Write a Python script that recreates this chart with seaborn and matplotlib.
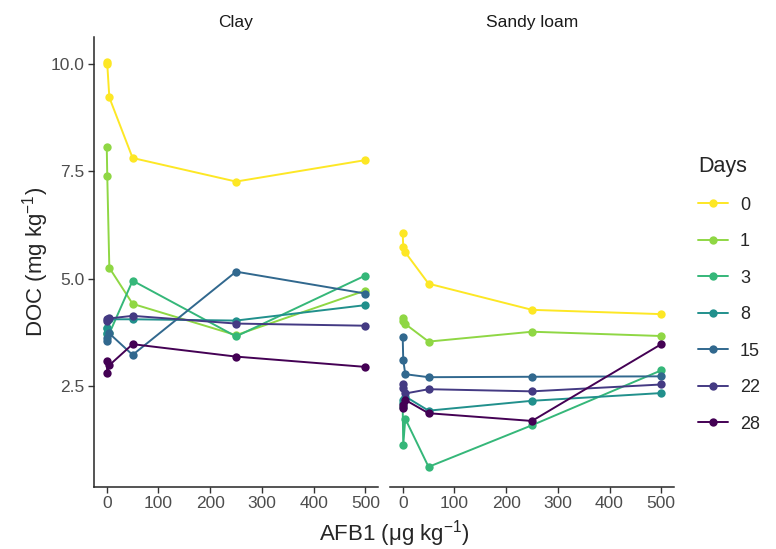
import numpy as np
import pandas as pd
import matplotlib
matplotlib.use("Agg")
import matplotlib.pyplot as plt
import seaborn as sns

# AFB1 spiking levels (µg kg-1)
afb1 = [0, 1, 5, 50, 250, 500]
days = ["0", "1", "3", "8", "15", "22", "28"]

# Dissolved organic carbon (mg kg-1) per sampling day, one value per AFB1 level
clay = {
    "0":  [10.05, 10.00, 9.22, 7.81, 7.26, 7.76],
    "1":  [8.07, 7.39, 5.25, 4.41, 3.68, 4.72],
    "3":  [3.85, 3.70, 3.72, 4.95, 3.65, 5.07],
    "8":  [3.85, 3.72, 4.05, 4.05, 4.02, 4.38],
    "15": [3.55, 3.62, 3.72, 3.22, 5.16, 4.65],
    "22": [4.00, 4.05, 4.07, 4.13, 3.95, 3.90],
    "28": [3.08, 2.79, 2.98, 3.47, 3.18, 2.94],
}
sandy_loam = {
    "0":  [6.05, 5.74, 5.61, 4.88, 4.27, 4.17],
    "1":  [4.07, 4.01, 3.94, 3.53, 3.76, 3.66],
    "3":  [2.00, 1.12, 1.73, 0.61, 1.58, 2.86],
    "8":  [2.18, 2.10, 2.25, 1.92, 2.15, 2.33],
    "15": [3.64, 3.10, 2.77, 2.70, 2.71, 2.72],
    "22": [2.53, 2.44, 2.32, 2.42, 2.37, 2.53],
    "28": [2.05, 1.98, 2.17, 1.86, 1.68, 3.47],
}
soils = {"Clay": clay, "Sandy loam": sandy_loam}

rows = []
for soil, table in soils.items():
    for d in days:
        for x, y in zip(afb1, table[d]):
            rows.append({"Soil": soil, "Days": d, "AFB1": x, "DOC": y})
df = pd.DataFrame(rows)

palette = dict(zip(days, ["#FDE725", "#8FD744", "#35B779", "#21908C",
                          "#31688E", "#443A83", "#440154"]))

sns.set_theme(style="ticks")
plt.rcParams["font.family"] = ["Liberation Sans", "DejaVu Sans"]
plt.rcParams["mathtext.fontset"] = "custom"
plt.rcParams["mathtext.rm"] = "Liberation Sans"
plt.rcParams["mathtext.it"] = "Liberation Sans:italic"

fig = plt.figure(figsize=(7.76, 5.49), dpi=100)
bottom, top = 0.1129, 0.9326
ax1 = fig.add_axes([0.1209, bottom, 0.4875 - 0.1209, top - bottom])
ax2 = fig.add_axes([0.5023, bottom, 0.8688 - 0.5023, top - bottom], sharey=ax1)

for ax, soil in [(ax1, "Clay"), (ax2, "Sandy loam")]:
    sub = df[df["Soil"] == soil]
    sns.lineplot(data=sub, x="AFB1", y="DOC", hue="Days", hue_order=days,
                 palette=palette, marker="o", markersize=6, markeredgewidth=0,
                 linewidth=1.4, sort=True, estimator=None, ax=ax, legend=(ax is ax1))
    ax.set_xlim(-25, 525)
    ax.set_xticks([0, 100, 200, 300, 400, 500])
    ax.set_title(soil, fontsize=12.5, color="#1A1A1A", pad=7)
    ax.set_xlabel("")
    ax.set_ylabel("")
    for s in ["top", "right"]:
        ax.spines[s].set_visible(False)
    ax.spines["bottom"].set_linewidth(1.1)
    ax.spines["left"].set_linewidth(1.1)
    ax.tick_params(axis="both", labelsize=12.5, labelcolor="#4D4D4D",
                   color="#333333", length=4, width=1, pad=2.5)

ax1.set_ylim(0.14, 10.63)
ax1.set_yticks([2.5, 5.0, 7.5, 10.0])
ax1.set_yticklabels(["2.5", "5.0", "7.5", "10.0"])
ax2.spines["left"].set_visible(False)
ax2.tick_params(axis="y", left=False, labelleft=False)

handles, labels = ax1.get_legend_handles_labels()
ax1.get_legend().remove()
leg = fig.legend(handles, labels, title="Days", loc="upper left",
                 bbox_to_anchor=(0.879, 0.745), frameon=False,
                 fontsize=13, title_fontsize=15.5, labelspacing=1.08,
                 handlelength=1.65, handletextpad=0.65)
leg._legend_box.align = "left"

fig.text(0.508, 0.0, "AFB1 (\u03bcg kg$^{-1}$)", ha="center", va="bottom", fontsize=16)
fig.text(0.026, 0.523, "DOC (mg kg$^{-1}$)", ha="left", va="center",
         rotation=90, fontsize=16)

fig.savefig("out.png", dpi=100)
